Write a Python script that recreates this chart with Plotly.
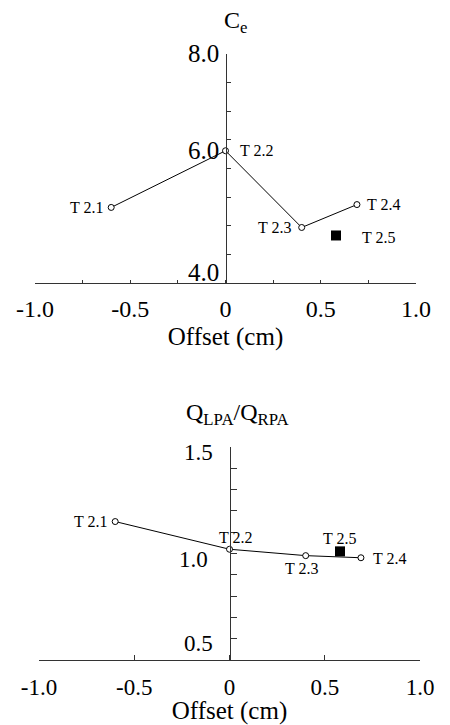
import plotly.graph_objects as go

# ---------------- data ----------------
labels_top = ["T 2.1", "T 2.2", "T 2.3", "T 2.4"]
labels_bot = ["T 2.1", "T 2.2", "T 2.3", "T 2.4"]
offset = [-0.6, 0.0, 0.4, 0.69]
ce = [5.32, 6.31, 4.97, 5.37]
q_ratio = [1.15, 1.02, 0.99, 0.98]

extra_label = "T 2.5"
extra_offset = 0.58
extra_ce = 4.83
extra_q = 1.01

x_tickvals = [-1.0, -0.5, 0.0, 0.5, 1.0]
x_ticktext = ["-1.0", "-0.5", "0", "0.5", "1.0"]
ce_tickvals = [4.0, 6.0, 8.0]
ce_ticktext = ["4.0", "6.0", "8.0"]
q_tickvals = [0.5, 1.0, 1.5]
q_ticktext = ["0.5", "1.0", "1.5"]

# ---------------- layout helpers ----------------
OFF = 8                      # default page margin of the html body
W, H = 450 - OFF, 725 - OFF
FONT = "Liberation Serif, Times New Roman, serif"

def px_x(a, b):
    return [(a - OFF) / W, (b - OFF) / W]

def px_y(top, bottom):
    return [(H - (bottom - OFF)) / H, (H - (top - OFF)) / H]

def py(v):
    return (H - (v - OFF)) / H

top_xdom = px_x(35, 416)
bot_xdom = px_x(39, 420)
top_ydom = px_y(54, 283)
bot_ydom = px_y(447, 660)

fig = go.Figure()

line_style = dict(color="black", width=1)
circle = dict(symbol="circle", size=6, color="white", line=dict(color="black", width=1))
square = dict(symbol="square", size=10, color="black")

fig.add_trace(go.Scatter(x=offset, y=ce, mode="lines+markers", line=line_style,
                         marker=circle, xaxis="x", yaxis="y", showlegend=False))
fig.add_trace(go.Scatter(x=[extra_offset], y=[extra_ce], mode="markers", marker=square,
                         xaxis="x", yaxis="y", showlegend=False))
fig.add_trace(go.Scatter(x=offset, y=q_ratio, mode="lines+markers", line=line_style,
                         marker=circle, xaxis="x2", yaxis="y2", showlegend=False))
fig.add_trace(go.Scatter(x=[extra_offset], y=[extra_q], mode="markers", marker=square,
                         xaxis="x2", yaxis="y2", showlegend=False))

axis_col = "#333333"
common_x = dict(range=[-1, 1], showgrid=False, zeroline=False, showline=True,
                linecolor=axis_col, linewidth=1, tickmode="array",
                tickvals=x_tickvals, ticktext=x_ticktext, ticks="inside",
                tickcolor=axis_col, automargin=False)
common_y = dict(anchor="free", showgrid=False, zeroline=False, showline=True,
                linecolor=axis_col, linewidth=1, tickmode="array", ticks="inside",
                tickcolor=axis_col, showticklabels=False, automargin=False)

fig.update_layout(
    width=W, height=H,
    margin=dict(l=0, r=0, t=0, b=0),
    paper_bgcolor="white", plot_bgcolor="white",
    font=dict(family=FONT, color="black"),
    xaxis=dict(common_x, domain=top_xdom, anchor="y", ticklen=3,
               tickfont=dict(size=24, family=FONT), ticklabelstandoff=4,
               minor=dict(tickmode="linear", tick0=0, dtick=0.25, ticks="inside",
                          ticklen=3, tickcolor=axis_col),
               title=dict(text="Offset (cm)", font=dict(size=25, family=FONT), standoff=6)),
    yaxis=dict(common_y, domain=top_ydom, range=[4, 8],
               position=(top_xdom[0] + top_xdom[1]) / 2,
               tickvals=ce_tickvals, ticklen=4,
               minor=dict(tickmode="linear", tick0=4, dtick=0.5, ticks="inside",
                          ticklen=4, tickcolor=axis_col)),
    xaxis2=dict(common_x, domain=bot_xdom, anchor="y2", ticklen=5,
                tickfont=dict(size=23, family=FONT), ticklabelstandoff=6,
                title=dict(text="Offset (cm)", font=dict(size=25, family=FONT), standoff=9)),
    yaxis2=dict(common_y, domain=bot_ydom, range=[0.5, 1.5],
                position=(bot_xdom[0] + bot_xdom[1]) / 2,
                tickvals=q_tickvals, ticklen=6,
                minor=dict(tickmode="linear", tick0=0.5, dtick=0.1, ticks="inside",
                           ticklen=6, tickcolor=axis_col)),
)

# y tick labels (placed as text next to each tick; shifts are styling only)
top_lab_shift = [10, 18, 0]
for val, txt, dy in zip(ce_tickvals, ce_ticktext, top_lab_shift):
    fig.add_annotation(text=txt, x=0, y=val, xref="x", yref="y", showarrow=False,
                       xanchor="right", yanchor="middle", xshift=-5, yshift=dy,
                       font=dict(size=25, family=FONT))
bot_lab_shift = [17, -6, -5]
bot_lab_dx = [-15, -20, -15]
for val, txt, dy, dx in zip(q_tickvals, q_ticktext, bot_lab_shift, bot_lab_dx):
    fig.add_annotation(text=txt, x=0, y=val, xref="x2", yref="y2", showarrow=False,
                       xanchor="right", yanchor="middle", xshift=dx, yshift=dy,
                       font=dict(size=23, family=FONT))

# axis titles (horizontal, above the y axes)
fig.add_annotation(text="C<sub>e</sub>", xref="x", yref="paper", x=0, y=py(22),
                   xshift=10, showarrow=False, font=dict(size=24, family=FONT),
                   xanchor="center", yanchor="middle")
fig.add_annotation(text="Q<sub>LPA</sub>/Q<sub>RPA</sub>", xref="x2", yref="paper", x=0,
                   y=py(414), xshift=8, showarrow=False,
                   font=dict(size=24, family=FONT), xanchor="center", yanchor="middle")

# point labels (positions are styling only)
top_pos = [("right", "middle", -6, 0), ("left", "middle", 12, 0),
           ("right", "middle", -9, 0), ("left", "middle", 8, 0)]
for lab, xv, yv, (xa, ya, dx, dy) in zip(labels_top, offset, ce, top_pos):
    fig.add_annotation(text=lab, x=xv, y=yv, xref="x", yref="y", showarrow=False,
                       xanchor=xa, yanchor=ya, xshift=dx, yshift=dy,
                       font=dict(size=16, family=FONT))
fig.add_annotation(text=extra_label, x=extra_offset, y=extra_ce, xref="x", yref="y",
                   showarrow=False, xanchor="left", yanchor="middle", xshift=24, yshift=-2,
                   font=dict(size=16, family=FONT))

bot_pos = [("right", "middle", -6, 0), ("center", "middle", 6, 12),
           ("center", "middle", -4, -13), ("left", "middle", 10, -1)]
for lab, xv, yv, (xa, ya, dx, dy) in zip(labels_bot, offset, q_ratio, bot_pos):
    fig.add_annotation(text=lab, x=xv, y=yv, xref="x2", yref="y2", showarrow=False,
                       xanchor=xa, yanchor=ya, xshift=dx, yshift=dy,
                       font=dict(size=16, family=FONT))
fig.add_annotation(text=extra_label, x=extra_offset, y=extra_q, xref="x2", yref="y2",
                   showarrow=False, xanchor="center", yanchor="middle", xshift=0, yshift=13,
                   font=dict(size=16, family=FONT))

fig.write_html("out.html")
